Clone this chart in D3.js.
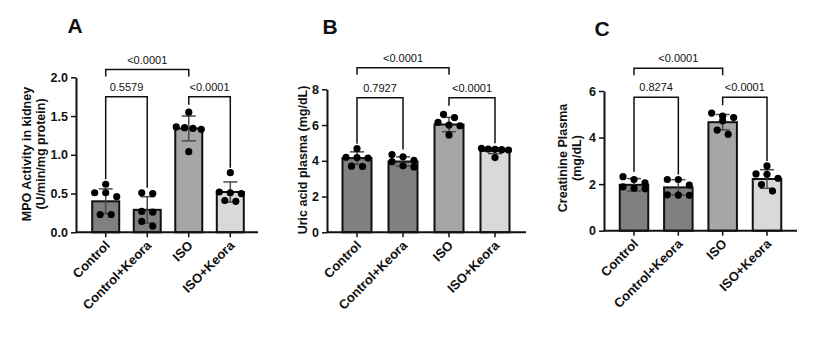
<!DOCTYPE html>
<html>
<head>
<meta charset="utf-8">
<script src="https://cdn.jsdelivr.net/npm/d3@7"></script>
<style>
  body { margin: 0; background: #fff; }
  svg { display: block; font-family: "Liberation Sans", Arial, sans-serif; }
</style>
</head>
<body>
<div id="chart"></div>
<script>
// groups shared by all three panels
var groups = ["Control", "Control+Keora", "ISO", "ISO+Keora"];
var barColors = ["#808080", "#808080", "#a6a6a8", "#d9d9d9"];

// A - MPO activity
var mpoMean = [0.40, 0.29, 1.34, 0.52];
var mpoSd = [0.16, 0.17, 0.16, 0.13];
var mpoPoints = [
    [0.62, 0.51, 0.51, 0.46, 0.23, 0.23],
    [0.51, 0.50, 0.27, 0.26, 0.14, 0.08],
    [1.55, 1.36, 1.35, 1.34, 1.33, 1.04],
    [0.77, 0.52, 0.51, 0.50, 0.41, 0.40]
];
var mpoTicks = [0, 0.5, 1.0, 1.5, 2.0];
var mpoP = ["<0.0001", "0.5579", "<0.0001"];

// B - uric acid
var uaMean = [4.15, 3.96, 6.03, 4.56];
var uaSd = [0.35, 0.26, 0.40, 0.16];
var uaPoints = [
    [4.68, 4.20, 4.18, 4.15, 3.70, 3.68],
    [4.35, 4.22, 4.02, 3.95, 3.72, 3.66],
    [6.60, 6.42, 6.15, 6.00, 5.96, 5.45],
    [4.70, 4.66, 4.64, 4.62, 4.60, 4.18]
];
var uaTicks = [0, 2, 4, 6, 8];
var uaP = ["<0.0001", "0.7927", "<0.0001"];

// C - creatinine
var crMean = [1.97, 1.86, 4.66, 2.22];
var crSd = [0.27, 0.33, 0.33, 0.40];
var crPoints = [
    [2.32, 2.20, 2.05, 1.88, 1.82, 1.80],
    [2.20, 2.20, 1.96, 1.54, 1.53, 1.52],
    [5.05, 4.92, 4.86, 4.72, 4.32, 4.14],
    [2.78, 2.44, 2.42, 2.25, 1.98, 1.70]
];
var crTicks = [0, 2, 4, 6];
var crP = ["<0.0001", "0.8274", "<0.0001"];

var svg = d3.select("#chart")
    .append("svg")
    .attr("width", 815)
    .attr("height", 361);

svg.append("rect").attr("width", 815).attr("height", 361).attr("fill", "#fff");

var panels = [
    { letter: "A", mean: mpoMean, sd: mpoSd, pts: mpoPoints, ticks: mpoTicks, fmt: d3.format(".1f"), p: mpoP,
      ylab: ["MPO Activity in kidney", "(U/min/mg protein)"], labX: 31, labY: 154,
      left: 76, right: 258, top: 77.3, bottom: 232.3, c0: 105.7, c3: 230.3, barW: 27,
      rowTop: 2.10, rowLow: 1.75, lx: 75, ly: 33 },
    { letter: "B", mean: uaMean, sd: uaSd, pts: uaPoints, ticks: uaTicks, fmt: d3.format("d"), p: uaP,
      ylab: ["Uric acid plasma (mg/dL)"], labX: 307, labY: 160,
      left: 327, right: 526, top: 89.3, bottom: 232.3, c0: 357, c3: 495, barW: 29,
      rowTop: 9.2, rowLow: 7.53, lx: 330, ly: 34 },
    { letter: "C", mean: crMean, sd: crSd, pts: crPoints, ticks: crTicks, fmt: d3.format("d"), p: crP,
      ylab: ["Creatinine Plasma", "(mg/dL)"], labX: 567, labY: 158,
      left: 604, right: 797, top: 91, bottom: 230.7, c0: 634, c3: 767, barW: 28.5,
      rowTop: 6.98, rowLow: 5.73, lx: 602, ly: 36 }
];

panels.forEach(function(cfg) {
    var g = svg.append("g");
    var ymax = cfg.ticks[cfg.ticks.length - 1];

    var x = d3.scalePoint().domain(groups).range([cfg.c0, cfg.c3]);
    var y = d3.scaleLinear().domain([0, ymax]).range([cfg.bottom, cfg.top]);

    // bars
    g.selectAll("rect.bar")
        .data(cfg.mean)
        .enter()
        .append("rect")
        .attr("x", function(d, i) { return x(groups[i]) - cfg.barW / 2; })
        .attr("y", function(d) { return y(d); })
        .attr("width", cfg.barW)
        .attr("height", function(d) { return cfg.bottom - y(d); })
        .attr("fill", function(d, i) { return barColors[i]; })
        .attr("stroke", "#111")
        .attr("stroke-width", 2);

    // error bars (mean +/- sd)
    cfg.mean.forEach(function(m, i) {
        var cx = x(groups[i]);
        var e = g.append("g").attr("stroke", "#4a4a4a").attr("stroke-width", 1.5);
        e.append("line").attr("x1", cx).attr("x2", cx).attr("y1", y(m + cfg.sd[i])).attr("y2", y(m - cfg.sd[i]));
        e.append("line").attr("x1", cx - 7).attr("x2", cx + 7).attr("y1", y(m + cfg.sd[i])).attr("y2", y(m + cfg.sd[i]));
        e.append("line").attr("x1", cx - 7).attr("x2", cx + 7).attr("y1", y(m - cfg.sd[i])).attr("y2", y(m - cfg.sd[i]));
    });

    // points, spread sideways when they sit at the same height
    cfg.pts.forEach(function(vals, i) {
        var cx = x(groups[i]);
        var sorted = vals.slice().sort(function(a, b) { return b - a; });
        var rows = [];
        sorted.forEach(function(v) {
            var last = rows[rows.length - 1];
            if (last && Math.abs(y(v) - y(last[0])) < 7) last.push(v);
            else rows.push([v]);
        });
        rows.forEach(function(row) {
            var step = row.length > 1 ? Math.min(11, (cfg.barW - 2) / (row.length - 1)) : 0;
            row.forEach(function(v, k) {
                g.append("circle")
                    .attr("cx", cx + (k - (row.length - 1) / 2) * step)
                    .attr("cy", y(v))
                    .attr("r", 3.6)
                    .attr("fill", "#000");
            });
        });
    });

    // y axis
    var ya = g.append("g")
        .attr("transform", "translate(" + cfg.left + ",0)")
        .call(d3.axisLeft(y).tickValues(cfg.ticks).tickFormat(cfg.fmt).tickSize(5).tickSizeOuter(0));
    ya.select(".domain").attr("stroke", "#111").attr("stroke-width", 2);
    ya.selectAll(".tick line").attr("stroke", "#111").attr("stroke-width", 1.5);
    ya.selectAll("text").attr("fill", "#111").style("font-size", "12.5px").style("font-weight", "bold")
        .style("font-family", "Liberation Sans, Arial, sans-serif");

    // x axis line + ticks
    g.append("line")
        .attr("x1", cfg.left).attr("x2", cfg.right)
        .attr("y1", cfg.bottom).attr("y2", cfg.bottom)
        .attr("stroke", "#111").attr("stroke-width", 2);
    groups.forEach(function(name) {
        g.append("line")
            .attr("x1", x(name)).attr("x2", x(name))
            .attr("y1", cfg.bottom).attr("y2", cfg.bottom + 5)
            .attr("stroke", "#111").attr("stroke-width", 1.5);
        g.append("text")
            .attr("transform", "translate(" + (x(name) + 5) + "," + (cfg.bottom + 14) + ")rotate(-45)")
            .attr("text-anchor", "end")
            .style("font-size", "13px")
            .style("font-weight", "bold")
            .attr("fill", "#111")
            .text(name);
    });

    // y label
    var lab = g.append("text")
        .attr("transform", "translate(" + cfg.labX + "," + cfg.labY + ")rotate(-90)")
        .attr("text-anchor", "middle")
        .style("font-size", "12.5px")
        .style("font-weight", "bold")
        .attr("fill", "#111");
    cfg.ylab.forEach(function(t, k) {
        lab.append("tspan").attr("x", 0).attr("dy", k === 0 ? 0 : 13.5).text(t);
    });

    // panel letter
    g.append("text")
        .attr("x", cfg.lx).attr("y", cfg.ly)
        .attr("text-anchor", "middle")
        .style("font-size", "21px")
        .style("font-weight", "bold")
        .attr("fill", "#111")
        .text(cfg.letter);

    // significance brackets
    function topOf(i) { return y(d3.max(cfg.pts[i])) - 5; }
    var brackets = [
        { a: 0, b: 2, level: cfg.rowTop, endA: y(cfg.rowTop) + 7, endB: y(cfg.rowTop) + 7, p: cfg.p[0] },
        { a: 0, b: 1, level: cfg.rowLow, endA: topOf(0), endB: topOf(1), p: cfg.p[1] },
        { a: 2, b: 3, level: cfg.rowLow, endA: y(cfg.rowLow) + 8, endB: topOf(3), p: cfg.p[2] }
    ];
    brackets.forEach(function(br) {
        var xa = x(groups[br.a]), xb = x(groups[br.b]), yl = y(br.level);
        g.append("path")
            .attr("d", "M" + xa + "," + br.endA + "V" + yl + "H" + xb + "V" + br.endB)
            .attr("fill", "none")
            .attr("stroke", "#111")
            .attr("stroke-width", 1.5);
        g.append("text")
            .attr("x", (xa + xb) / 2)
            .attr("y", yl - 6)
            .attr("text-anchor", "middle")
            .style("font-size", "11px")
            .attr("fill", "#111")
            .text(br.p);
    });
});
</script>
</body>
</html>
